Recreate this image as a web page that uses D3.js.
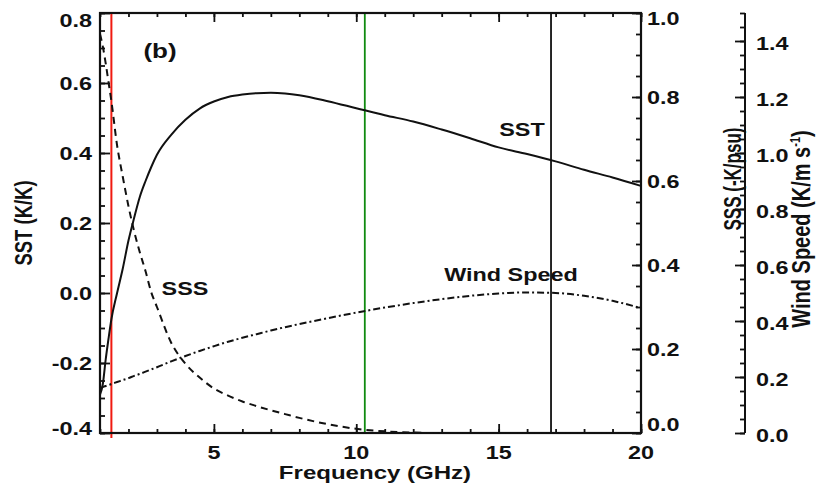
<!DOCTYPE html>
<html><head><meta charset="utf-8">
<script src="https://cdn.jsdelivr.net/npm/d3@7"></script>
<style>
body{margin:0;background:#fff}
svg{display:block}
text{font-family:"Liberation Sans",Arial,Helvetica,sans-serif;font-weight:bold;fill:#111}
</style></head><body>
<svg id="chart" width="818" height="483"></svg>
<script>
// ---- data ----
const freq = [1.0,1.1,1.2,1.3,1.4,1.6,1.8,2.0,2.2,2.4,2.6,2.8,3.0,3.5,4.0,4.5,5.0,5.5,6.0,6.5,7.0,7.5,8.0,9.0,10,11,12,13,14,15,16,17,18,19,20];
const sst  = [-0.29,-0.26,-0.19,-0.13,-0.075,0.0,0.07,0.15,0.215,0.275,0.32,0.36,0.395,0.452,0.495,0.527,0.547,0.56,0.567,0.571,0.572,0.57,0.565,0.548,0.528,0.508,0.49,0.467,0.442,0.416,0.397,0.376,0.352,0.33,0.306];
const sss  = [0.95,0.92,0.88,0.835,0.79,0.685,0.61,0.54,0.48,0.43,0.385,0.335,0.30,0.215,0.165,0.132,0.106,0.089,0.075,0.064,0.054,0.045,0.036,0.021,0.01,0.004,0.001,0,0,0,0,0,0,0,0];
const wind = [0.16,0.164,0.168,0.171,0.175,0.182,0.189,0.196,0.204,0.211,0.219,0.227,0.235,0.256,0.275,0.293,0.31,0.326,0.34,0.353,0.366,0.378,0.389,0.41,0.43,0.448,0.464,0.478,0.49,0.498,0.502,0.5,0.49,0.472,0.446];
const markerFreqs = [1.4, 10.3, 16.84];
const freqTicks = [5,10,15,20];
const sstTicks  = [-0.4,-0.2,0.0,0.2,0.4,0.6,0.8];
const sssTicks  = [0.0,0.2,0.4,0.6,0.8,1.0];
const windTicks = [0.0,0.2,0.4,0.6,0.8,1.0,1.2,1.4];
const curveLabels = ["SST","SSS","Wind Speed"];

// ---- layout ----
const X0=100, X1=641, Y0=13, Y1=433, WX=745, SX=1.3;
const svg = d3.select("#chart");
const x = d3.scaleLinear().domain([1,20]).range([X0,X1]);
const ySST = d3.scaleLinear().domain([-0.4,0.8]).range([Y1,Y0]);
const ySSS = d3.scaleLinear().domain([0,1]).range([Y1,Y0]);
const yW = d3.scaleLinear().domain([0,1.5]).range([Y1,Y0]);
const fmt = v => (v < 0 ? "-" : "") + Math.abs(v).toFixed(1);

function txt(s, px, py, anchor, size, rot){
  return svg.append("text")
    .attr("transform", `translate(${px},${py}) scale(${SX},1)` + (rot ? " rotate(-90)" : ""))
    .attr("text-anchor", anchor).attr("font-size", size).text(s);
}
function ticks(axis, tx, ty, vals, size){
  const g = svg.append("g").attr("transform",`translate(${tx},${ty})`)
    .call(axis.tickValues(vals).tickSize(size).tickSizeOuter(0).tickFormat(""));
  g.select(".domain").remove();
  g.selectAll(".tick line").attr("stroke","#111").attr("stroke-width",1.8);
}
const rng = (a,b,s) => d3.range(Math.round((b-a)/s)+1).map(i => +(a+i*s).toFixed(3));

// vertical marker lines
const markerColors = ["#f01a10","#108a10","#111"];
svg.selectAll("line.marker").data(markerFreqs).join("line").attr("class","marker")
  .attr("x1",d=>x(d)).attr("x2",d=>x(d)).attr("y1",Y0)
  .attr("y2",(d,i)=> i===0 ? Y1+5 : Y1)
  .attr("stroke",(d,i)=>markerColors[i]).attr("stroke-width",(d,i)=> i===0?2:1.8);

// ticks: x (bottom & top)
ticks(d3.axisTop(x), 0, Y1, rng(1,20,1), 4);
ticks(d3.axisTop(x), 0, Y1, freqTicks, 9);
ticks(d3.axisBottom(x), 0, Y0, rng(1,20,1), 4);
ticks(d3.axisBottom(x), 0, Y0, freqTicks, 9);
// left SST
ticks(d3.axisRight(ySST), X0, 0, rng(-0.4,0.8,0.05), 5);
ticks(d3.axisRight(ySST), X0, 0, sstTicks, 10);
// right SSS
ticks(d3.axisLeft(ySSS), X1, 0, rng(0,1,0.05), 5);
ticks(d3.axisLeft(ySSS), X1, 0, sssTicks, 9);
// wind axis
ticks(d3.axisLeft(yW), WX, 0, rng(0,1.5,0.05), 5);
ticks(d3.axisLeft(yW), WX, 0, windTicks, 10);
svg.append("line").attr("x1",WX).attr("x2",WX).attr("y1",Y0).attr("y2",Y1)
  .attr("stroke","#111").attr("stroke-width",2);

// frame
svg.append("rect").attr("x",X0).attr("y",Y0).attr("width",X1-X0).attr("height",Y1-Y0)
  .attr("fill","none").attr("stroke","#111").attr("stroke-width",2.2);

// curves
const pts = (arr) => freq.map((f,i)=>[f,arr[i]]);
const lineSST = d3.line().x(d=>x(d[0])).y(d=>ySST(d[1])).curve(d3.curveMonotoneX);
const lineSSS = d3.line().x(d=>x(d[0])).y(d=>ySSS(d[1])).curve(d3.curveMonotoneX);
const lineW = d3.line().x(d=>x(d[0])).y(d=>yW(d[1])).curve(d3.curveMonotoneX);
svg.append("path").attr("d",lineSST(pts(sst))).attr("fill","none").attr("stroke","#111").attr("stroke-width",2);
svg.append("path").attr("d",lineSSS(pts(sss))).attr("fill","none").attr("stroke","#111").attr("stroke-width",2).attr("stroke-dasharray","7,5");
svg.append("path").attr("d",lineW(pts(wind))).attr("fill","none").attr("stroke","#111").attr("stroke-width",2).attr("stroke-dasharray","7,3,2,3");

// tick labels
sstTicks.forEach(v => txt(fmt(v), 92, Math.min(Math.max(ySST(v),20),428)+6.5, "end", 18));
sssTicks.forEach(v => txt(fmt(v), 647, Math.min(Math.max(ySSS(v),18),424)+6.5, "start", 18));
windTicks.forEach(v => txt(fmt(v), 756, yW(v)+8.5, "start", 18));
freqTicks.forEach(v => txt(String(v), x(v), 458.5, "middle", 18));

// axis titles
txt("Frequency (GHz)", 375, 479, "middle", 18.5);
txt("SST (K/K)", 32, 223, "middle", 18.5, true);
txt("SSS (-K/psu)", 741, 179, "middle", 18.5, true)
  .attr("textLength", 103).attr("lengthAdjust", "spacingAndGlyphs");
const wt = txt("Wind Speed (K/m s", 810, 229, "middle", 20, true);
wt.append("tspan").attr("font-size",11).attr("dy",-8).text("-1");
wt.append("tspan").attr("dy",8).text(")");

// panel and curve labels
txt("(b)", 160, 58, "middle", 20);
txt(curveLabels[0], 522, 136, "middle", 18);
txt(curveLabels[1], 185, 295, "middle", 18);
txt(curveLabels[2], 511, 281, "middle", 18);
</script></body></html>
